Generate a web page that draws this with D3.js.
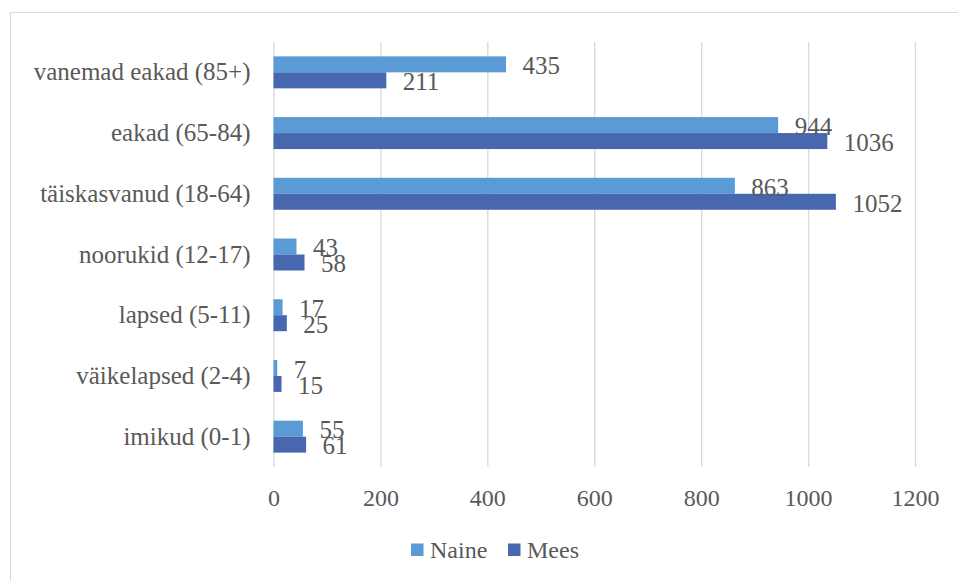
<!DOCTYPE html>
<html>
<head>
<meta charset="utf-8">
<script src="https://cdn.jsdelivr.net/npm/d3@7"></script>
<style>
  html, body { margin: 0; padding: 0; background: #ffffff; }
  svg { display: block; }
  text { font-family: "Liberation Serif", "Times New Roman", serif; fill: #595959; }
</style>
</head>
<body>
<svg id="chart" width="958" height="581"></svg>
<script>
// Age groups, top to bottom
const categories = [
  "vanemad eakad (85+)",
  "eakad (65-84)",
  "täiskasvanud (18-64)",
  "noorukid (12-17)",
  "lapsed (5-11)",
  "väikelapsed (2-4)",
  "imikud (0-1)"
];
const seriesNames = ["Naine", "Mees"];
const naineValues = [435, 944, 863, 43, 17, 7, 55];
const meesValues = [211, 1036, 1052, 58, 25, 15, 61];
const xTicks = [0, 200, 400, 600, 800, 1000, 1200];

const colors = { Naine: "#5b9bd5", Mees: "#4767ae" };

const rows = categories.map((c, i) => ({
  category: c,
  values: [
    { series: "Naine", value: naineValues[i] },
    { series: "Mees", value: meesValues[i] }
  ]
}));

const svg = d3.select("#chart");

// chart area outline (extends past the right and bottom edges)
svg.append("rect")
  .attr("x", 10.5).attr("y", 12.5)
  .attr("width", 1000).attr("height", 700)
  .attr("fill", "none").attr("stroke", "#d9d9d9").attr("stroke-width", 1);

const plot = { left: 273.5, right: 915, top: 42, bottom: 467 };

const x = d3.scaleLinear().domain([0, 1200]).range([plot.left, plot.right]);
const y = d3.scaleBand().domain(categories).range([plot.top, plot.bottom]).padding(0);
const ySub = d3.scaleBand().domain(seriesNames)
  .range([0, y.bandwidth()]).paddingInner(0).paddingOuter(0.9);

// x axis with vertical gridlines
const xAxis = svg.append("g")
  .attr("transform", `translate(0,${plot.bottom})`)
  .call(d3.axisBottom(x).tickValues(xTicks).tickFormat(d3.format("d"))
    .tickSize(-(plot.bottom - plot.top)).tickPadding(22));
xAxis.select(".domain").remove();
xAxis.selectAll(".tick line").attr("stroke", "#d9d9d9").attr("stroke-width", 1.3);
xAxis.selectAll(".tick text")
  .style("font-family", "'Liberation Serif', serif")
  .style("font-size", "24px").attr("fill", "#595959");

// category axis
const yAxis = svg.append("g")
  .attr("transform", `translate(${plot.left},0)`)
  .call(d3.axisLeft(y).tickSize(0).tickPadding(23));
yAxis.select(".domain").remove();
yAxis.selectAll(".tick text")
  .style("font-family", "'Liberation Serif', serif")
  .style("font-size", "25px").attr("fill", "#595959");

// bars
const groups = svg.append("g").selectAll("g")
  .data(rows).join("g")
  .attr("transform", d => `translate(0,${y(d.category)})`);

groups.selectAll("rect")
  .data(d => d.values).join("rect")
  .attr("x", x(0))
  .attr("y", d => ySub(d.series))
  .attr("width", d => x(d.value) - x(0))
  .attr("height", ySub.bandwidth())
  .attr("fill", d => colors[d.series]);

// value labels
groups.selectAll("text.val")
  .data(d => d.values).join("text")
  .attr("class", "val")
  .attr("x", d => x(d.value) + 16.5)
  .attr("y", d => ySub(d.series) + ySub.bandwidth() / 2 + 1)
  .attr("dy", "0.35em")
  .style("font-size", "25px")
  .attr("fill", "#404040")
  .text(d => d.value);

// legend
const legend = svg.append("g").attr("transform", "translate(411,550)");
const legendOffsets = [0, 97];
seriesNames.forEach((s, i) => {
  const g = legend.append("g").attr("transform", `translate(${legendOffsets[i]},0)`);
  g.append("rect").attr("x", 0).attr("y", -6.5).attr("width", 12.5).attr("height", 12.5)
    .attr("fill", colors[s]);
  g.append("text").attr("x", 19).attr("y", 0).attr("dy", "0.35em")
    .style("font-size", "24px").attr("fill", "#595959").text(s);
});
</script>
</body>
</html>
